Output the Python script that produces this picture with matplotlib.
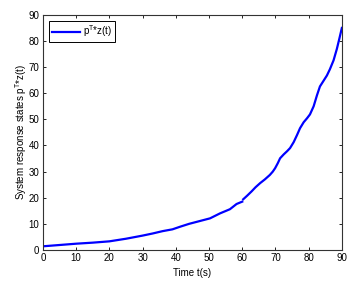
import numpy as np
import matplotlib.pyplot as plt

plt.rcParams['font.family'] = ['Liberation Sans', 'DejaVu Sans']

# first segment (up to the small break at t=60)
t_a = [0, 5, 10, 15, 20, 25, 30, 33, 36, 39, 41.3, 44, 47.3, 50.3, 53.3, 56.3, 57.5, 58.3, 60.0]
v_a = [1.4, 1.9, 2.4, 2.8, 3.3, 4.3, 5.5, 6.3, 7.2, 7.9, 8.9, 10.0, 11.1, 12.1, 14.0, 15.6, 16.8, 17.6, 18.5]

# second segment
t_b = [60.3, 61.5, 62.8, 64.0, 65.4, 66.8, 68.3, 69.2, 69.9, 70.7, 71.4, 72.5, 73.5, 74.4, 75.5,
       76.5, 77.4, 78.5, 79.5, 80.4, 81.5, 82.5, 83.4, 84.5, 85.5, 86.4, 87.5, 88.5, 89.3, 90.0]
v_b = [19.4, 20.8, 22.4, 24.0, 25.6, 27.0, 28.7, 30.0, 31.3, 33.2, 35.1, 36.6, 37.8, 39.0, 41.3,
       44.0, 46.6, 48.9, 50.4, 51.9, 55.0, 59.2, 62.6, 64.8, 66.8, 69.2, 72.6, 77.0, 81.2, 85.0]

fig = plt.figure(figsize=(3.55, 2.86), dpi=100)
ax = fig.add_axes([0.121, 0.126, 0.842, 0.822])

ax.plot(t_a, v_a, color='#0000ff', lw=1.6, label='p$^\\mathregular{T}$*z(t)')
ax.plot(t_b, v_b, color='#0000ff', lw=1.6)

ax.set_xlim(0, 90)
ax.set_ylim(0, 90)
ax.set_xticks(np.arange(0, 91, 10))
ax.set_yticks(np.arange(0, 91, 10))
ax.tick_params(direction='in', length=2.5, width=0.6, labelsize=7, top=True, right=True,
               labeltop=False, labelright=False, pad=2.5)
for s in ax.spines.values():
    s.set_linewidth(0.8)
    s.set_color('#333333')

ax.set_xlabel('Time t(s)', fontsize=7, labelpad=3)
ax.set_ylabel('System response states p$^\\mathregular{T}$*z(t)', fontsize=7, labelpad=0)

leg = ax.legend(loc='upper left', fontsize=7, fancybox=False, framealpha=1,
                edgecolor='black', handlelength=2.9, handletextpad=0.3,
                borderpad=0.3, borderaxespad=0.6)
leg.get_frame().set_linewidth(0.7)

fig.savefig('out.png', dpi=100)
